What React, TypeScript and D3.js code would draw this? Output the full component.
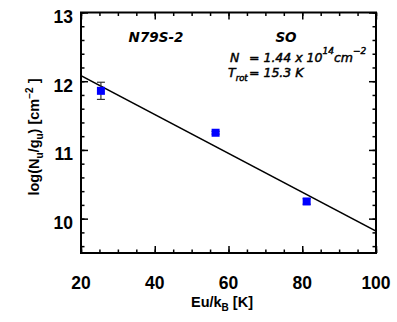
import React, { useEffect, useRef } from 'react';
import * as d3 from 'd3';

// rotational diagram values
const energies = [25.4, 56.5, 81.2];
const logColumns = [11.86, 11.25, 10.25];
const errors = [0.125, 0.02, 0.04];

// fitted line end points
const fitX = [20, 100];
const fitY = [12.08, 9.82];

const xTicks = [20, 40, 60, 80, 100];
const yTicks = [10, 11, 12, 13];
const xDomain = [20, 100];
const yDomain = [9.5, 13];

const App = () => {
  const svgRef = useRef<SVGSVGElement>(null);

  useEffect(() => {
    const svg = d3.select(svgRef.current);
    svg.selectAll('*').remove();

    const W = 397;
    const H = 322;
    const left = 81, right = 376, top = 12.5, bottom = 253;

    svg.attr('width', W).attr('height', H);

    const x = d3.scaleLinear().domain(xDomain).range([left, right]);
    const y = d3.scaleLinear().domain(yDomain).range([bottom, top]);

    const tickFont = '"Liberation Sans", Arial, sans-serif';
    const annFont = '"DejaVu Sans", sans-serif';

    const xMinor = d3.range(20, 100.01, 5);
    const yMinor = d3.range(9.6, 13.01, 0.2);

    // inward ticks on all four sides
    const addAxis = (axis, tf) => {
      const g = svg.append('g').attr('transform', tf).call(axis);
      g.select('.domain').remove();
      g.selectAll('line').attr('stroke', '#000').attr('stroke-width', 1.5);
      g.selectAll('text').remove();
    };
    addAxis(d3.axisBottom(x).tickValues(xMinor).tickSize(-3.5), `translate(0,${bottom})`);
    addAxis(d3.axisBottom(x).tickValues(xTicks).tickSize(-7), `translate(0,${bottom})`);
    addAxis(d3.axisTop(x).tickValues(xMinor).tickSize(-3.5), `translate(0,${top})`);
    addAxis(d3.axisTop(x).tickValues(xTicks).tickSize(-7), `translate(0,${top})`);
    addAxis(d3.axisLeft(y).tickValues(yMinor).tickSize(-3.5), `translate(${left},0)`);
    addAxis(d3.axisLeft(y).tickValues(yTicks).tickSize(-7), `translate(${left},0)`);
    addAxis(d3.axisRight(y).tickValues(yMinor).tickSize(-3.5), `translate(${right},0)`);
    addAxis(d3.axisRight(y).tickValues(yTicks).tickSize(-7), `translate(${right},0)`);

    // frame
    svg.append('rect')
      .attr('x', left).attr('y', top)
      .attr('width', right - left).attr('height', bottom - top)
      .attr('fill', 'none').attr('stroke', '#000').attr('stroke-width', 2);

    // tick labels
    svg.selectAll('.xlab').data(xTicks).enter().append('text')
      .attr('x', d => x(d)).attr('y', 289)
      .attr('text-anchor', 'middle')
      .style('font-family', tickFont).style('font-weight', 'bold').style('font-size', '17.5px')
      .text(d => d);
    svg.selectAll('.ylab').data(yTicks).enter().append('text')
      .attr('x', 73).attr('y', d => y(d) + 10.5)
      .attr('text-anchor', 'end')
      .style('font-family', tickFont).style('font-weight', 'bold').style('font-size', '17.5px')
      .text(d => d);

    // axis titles
    const xt = svg.append('text')
      .attr('x', 222).attr('y', 307)
      .attr('text-anchor', 'middle')
      .style('font-family', tickFont).style('font-size', '14.5px').style('font-weight', 'bold');
    xt.append('tspan').text('Eu/k');
    xt.append('tspan').attr('dy', 4).style('font-size', '10px').text('B');
    xt.append('tspan').attr('dy', -4).text(' [K]');

    const yt = svg.append('text')
      .attr('transform', 'translate(39,137) rotate(-90)')
      .attr('text-anchor', 'middle')
      .style('font-family', tickFont).style('font-size', '14.5px').style('font-weight', 'bold');
    yt.append('tspan').text('log(N');
    yt.append('tspan').attr('dy', 4).style('font-size', '10px').text('u');
    yt.append('tspan').attr('dy', -4).text('/g');
    yt.append('tspan').attr('dy', 4).style('font-size', '10px').text('u');
    yt.append('tspan').attr('dy', -4).text(') [cm');
    yt.append('tspan').attr('dy', -6).style('font-size', '10px').text('−2');
    yt.append('tspan').attr('dy', 6).text(' ]');

    // fit line
    const line = d3.line<number>().x((d, i) => x(fitX[i])).y(d => y(d));
    svg.append('clipPath').attr('id', 'plotclip').append('rect')
      .attr('x', left).attr('y', top).attr('width', right - left).attr('height', bottom - top);
    svg.append('path')
      .datum(fitY)
      .attr('d', line)
      .attr('fill', 'none').attr('stroke', '#000').attr('stroke-width', 1.5)
      .attr('clip-path', 'url(#plotclip)');

    // error bars
    const pts = energies.map((e, i) => ({ e, v: logColumns[i], err: errors[i] }));
    const eb = svg.selectAll('.eb').data(pts).enter().append('g')
      .attr('stroke', '#333').attr('stroke-width', 1.2);
    eb.append('line')
      .attr('x1', d => x(d.e)).attr('x2', d => x(d.e))
      .attr('y1', d => y(d.v + d.err)).attr('y2', d => y(d.v - d.err));
    eb.append('line')
      .attr('x1', d => x(d.e) - 4).attr('x2', d => x(d.e) + 4)
      .attr('y1', d => y(d.v + d.err)).attr('y2', d => y(d.v + d.err));
    eb.append('line')
      .attr('x1', d => x(d.e) - 4).attr('x2', d => x(d.e) + 4)
      .attr('y1', d => y(d.v - d.err)).attr('y2', d => y(d.v - d.err));

    // markers
    svg.selectAll('.pt').data(pts).enter().append('rect')
      .attr('x', d => x(d.e) - 4).attr('y', d => y(d.v) - 4)
      .attr('width', 8).attr('height', 8)
      .attr('fill', '#0000ff');

    // annotations
    const ann = (sel) => sel.style('font-family', annFont).style('font-style', 'italic')
      .style('font-weight', 'bold').style('font-size', '13.5px');
    ann(svg.append('text').attr('x', 156).attr('y', 42).attr('text-anchor', 'middle').text('N79S-2'));
    ann(svg.append('text').attr('x', 286).attr('y', 42).attr('text-anchor', 'middle').text('SO'));

    // semi-bold look for the fit result lines
    const semi = (sel) => ann(sel).style('font-size', '12.5px').style('font-weight', 'normal')
      .attr('stroke', '#000').attr('stroke-width', 0.45);

    const n = semi(svg.append('text').attr('x', 230).attr('y', 62));
    n.append('tspan').text('N');
    n.append('tspan').attr('x', 249).text('= 1.44 x 10');
    n.append('tspan').attr('dy', -8).style('font-size', '9px').text('14');
    n.append('tspan').attr('dy', 8).text('cm');
    n.append('tspan').attr('dy', -8).style('font-size', '9px').text('−2');

    const t = semi(svg.append('text').attr('x', 228).attr('y', 77));
    t.append('tspan').text('T');
    t.append('tspan').attr('dy', 4).style('font-size', '8.5px').text('rot');
    t.append('tspan').attr('x', 249).attr('dy', -4).text('= 15.3 K');
  }, []);

  return (
    <svg ref={svgRef} style={{ position: 'absolute', left: 0, top: 0, background: '#fff' }}></svg>
  );
};

export default App;
